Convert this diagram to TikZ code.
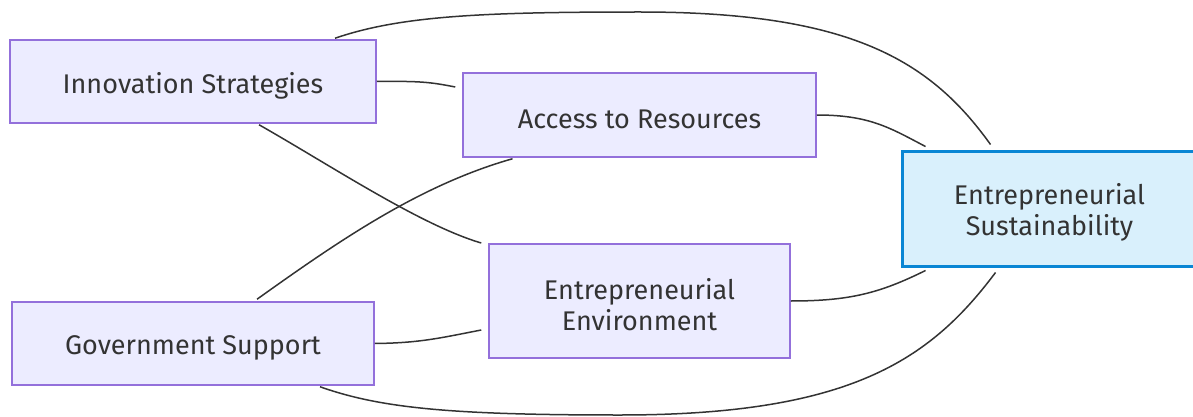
\documentclass[tikz,border=0pt]{standalone}
\usepackage{fontspec}
\setmainfont{Fira Sans}
\usetikzlibrary{calc}
\definecolor{boxfill}{HTML}{ECECFF}
\definecolor{boxline}{HTML}{9370DB}
\definecolor{goalfill}{HTML}{D9F0FC}
\definecolor{goalline}{HTML}{0A86D4}
\definecolor{ink}{HTML}{333333}
% extra room above a first line, so the label sits a little lower in its box
\newcommand{\padtop}[1]{\raisebox{0pt}[\dimexpr\height+8pt\relax]{#1}}
\begin{document}
\begin{tikzpicture}[x=1pt,y=-1pt,
  box/.style={draw=boxline, fill=boxfill, line width=1.5pt, text=ink,
    inner sep=0pt, align=center, font=\fontsize{27}{31}\selectfont},
  goal/.style={box, draw=goalline, fill=goalfill, line width=3pt},
  link/.style={draw=ink, line width=1.5pt}]
\useasboundingbox (0,0) rectangle (1193,417);

% factor nodes
\node[box, minimum width=366pt, minimum height=83pt] (is) at (193,81.5) {\padtop{Innovation Strategies}};
\node[box, minimum width=353pt, minimum height=84pt] (ar) at (639.5,115) {\padtop{Access to Resources}};
\node[box, minimum width=301pt, minimum height=114pt] (ee) at (639.5,301) {\padtop{Entrepreneurial}\\Environment};
\node[box, minimum width=362pt, minimum height=83pt] (gs) at (193,343.5) {\padtop{Government Support}};
% outcome node
\node[goal, minimum width=295pt, minimum height=115pt] (es) at (1049.5,208.5) {\padtop{Entrepreneurial}\\Sustainability};

% undirected links
\draw[link] ($(is.north)+(142,-1)$) .. controls (400,16) and (480,12) .. (640,12)
  .. controls (850,12) and (930,60) .. ($(es.north)+(-59,-5)$);
\draw[link] (is.east) .. controls (420,81) and (430,82) .. ($(ar.west)+(-7,-28)$);
\draw[link] ($(is.south)+(66,1)$) .. controls (330,165) and (420,225) .. ($(ee.west)+(-7,-58)$);
\draw[link] (ar.east) .. controls (870,115) and (890,128) .. ($(es.north west)+(25,-3)$);
\draw[link] ($(gs.north)+(64,-2)$) .. controls (340,240) and (420,185) .. ($(ar.south)+(-127,1)$);
\draw[link] (gs.east) .. controls (420,343) and (440,338) .. ($(ee.west)+(-7,29)$);
\draw[link] (ee.east) .. controls (850,301) and (880,293) .. ($(es.south west)+(25,3)$);
\draw[link] ($(gs.south)+(127,1)$) .. controls (380,408) and (450,415) .. (620,415)
  .. controls (850,415) and (930,360) .. ($(es.south)+(-54,5)$);
\end{tikzpicture}
\end{document}
